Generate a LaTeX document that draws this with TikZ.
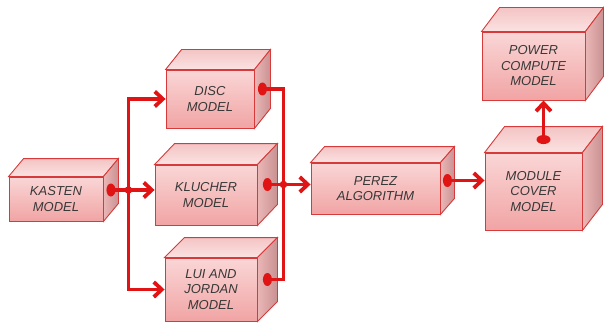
\documentclass[tikz,border=0pt]{standalone}
\usepackage{fontspec}
\setmainfont{Liberation Sans}
\usetikzlibrary{arrows.meta,calc}
\definecolor{lnred}{HTML}{E01414}
\definecolor{bord}{HTML}{D63A3A}
\definecolor{frtop}{HTML}{FAD6D6}
\definecolor{frbot}{HTML}{F1A4A4}
\definecolor{tptop}{HTML}{F4C4C4}
\definecolor{tpbot}{HTML}{FBE2E2}
\definecolor{sdl}{HTML}{EBB6B6}
\definecolor{sdr}{HTML}{C99292}
\definecolor{txt}{HTML}{383838}
\tikzset{
 front/.style={draw=bord, line width=0.9pt, top color=frtop, bottom color=frbot,
   align=center, font=\fontsize{13}{15.5}\selectfont\itshape, text=txt, inner sep=0pt},
 topface/.style={draw=bord, line width=0.9pt, top color=tptop, bottom color=tpbot},
 sideface/.style={draw=bord, line width=0.9pt, left color=sdl, right color=sdr},
 conn/.style={draw=lnred, line width=3.8pt},
 arr/.style={conn, -{Straight Barb[length=8pt,width=15pt]}},
 dotfill/.style={fill=lnred},
}
% #1 name, #2 cx, #3 cy, #4 w, #5 h, #6 dx, #7 dy, #8 text
\newcommand\drawcube[8]{%
  \node[front, minimum width=#4pt, minimum height=#5pt] (#1) at (#2,#3) {#8};
  \shade[topface] (#1.north west) -- ++(#6,#7) -- ([shift={(#6,#7)}]#1.north east) -- (#1.north east) -- cycle;
  \shade[sideface] (#1.north east) -- ++(#6,#7) -- ([shift={(#6,#7)}]#1.south east) -- (#1.south east) -- cycle;
  \coordinate (#1-s) at ([shift={(#6/2,#7/2)}]#1.east);
  \coordinate (#1-t) at ([shift={(#6/2,#7/2)}]#1.north);
}
\begin{document}
\begin{tikzpicture}[x=1pt,y=-1pt]
\useasboundingbox (0,0) rectangle (604,326);
\drawcube{kasten}{56}{199}{94}{44}{15}{-18}{KASTEN\\MODEL}
\drawcube{disc}{210}{99}{88}{58}{16}{-20}{DISC\\MODEL}
\drawcube{klucher}{206}{195}{102}{60}{20}{-21}{KLUCHER\\MODEL}
\drawcube{lui}{211}{289.5}{92}{63}{20}{-20}{LUI AND\\JORDAN\\MODEL}
\drawcube{perez}{375.5}{188.5}{129}{51}{14}{-16}{PEREZ\\ALGORITHM}
\drawcube{power}{533.5}{66}{103}{68}{18}{-24}{POWER\\COMPUTE\\MODEL}
\drawcube{module}{533.5}{191.5}{97}{77}{20}{-26}{MODULE\\COVER\\MODEL}

\coordinate (jL) at ($(kasten-s)+(17.5,0)$);
\coordinate (jR) at ($(klucher-s)+(16,0)$);

\draw[conn] (kasten-s) -- (jL);
\draw[arr] (jL) -- (jL -| klucher.west);
\draw[arr] (jL) |- (disc.west);
\draw[arr] (jL) |- (lui.west);

\draw[conn] (disc-s) -| (jR);
\draw[conn] (lui-s) -| (jR);
\draw[conn] (klucher-s) -- (jR);
\draw[arr] (jR) -- (jR -| perez.west);

\draw[arr] (perez-s) -- (perez-s -| module.west);
\draw[arr] (module-t) -- (module-t |- power.south);

\foreach \n in {kasten,disc,klucher,lui,perez}
  \fill[dotfill] (\n-s) ellipse [x radius=4.5pt, y radius=6.5pt];
\fill[dotfill] (module-t) ellipse [x radius=7pt, y radius=4.5pt];
\fill[dotfill] (jL) circle [radius=3.8pt];
\fill[dotfill] (jR) circle [radius=3.8pt];
\end{tikzpicture}
\end{document}
